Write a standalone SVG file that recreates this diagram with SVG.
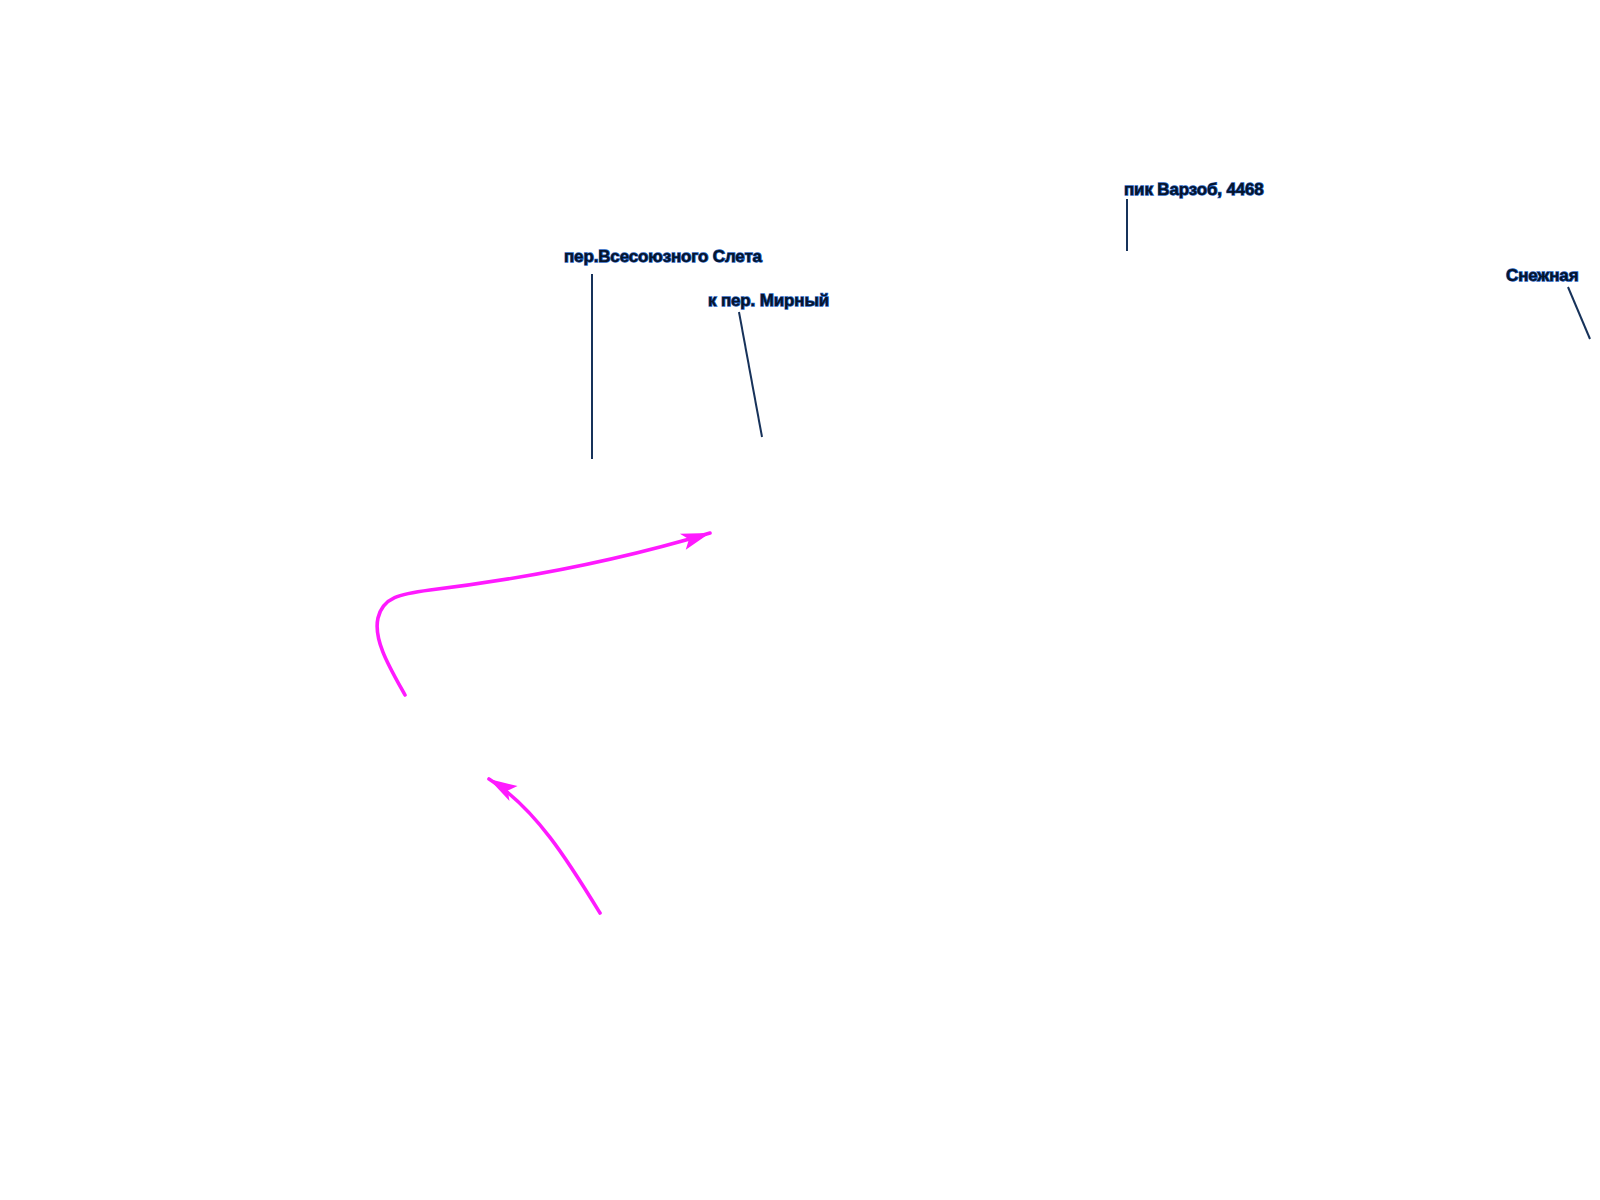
<svg xmlns="http://www.w3.org/2000/svg" width="1600" height="1200" viewBox="0 0 1600 1200">
<style>
.lbl{font-family:"Liberation Sans",Arial,sans-serif;font-size:17px;font-weight:bold;fill:#06142b;stroke:#1f5fbf;stroke-width:1.3;paint-order:stroke;letter-spacing:-0.15px}
.lead{stroke:#17325a;stroke-width:2;fill:none}
.route{stroke:#ff1aff;stroke-width:3.6;fill:none;stroke-linecap:round}
</style>
<defs>
<marker id="ah" markerUnits="userSpaceOnUse" viewBox="-30 -10 32 20" refX="0" refY="0" markerWidth="32" markerHeight="20" orient="auto">
<path d="M0,0 L-29,-8 L-22,0 L-28,9 Z" fill="#ff1aff"/>
</marker>
</defs>
<rect width="1600" height="1200" fill="#ffffff"/>
<g id="connectors">
<line class="lead" x1="592" y1="274" x2="592" y2="459"/>
<line class="lead" x1="739" y1="312" x2="762" y2="437"/>
<line class="lead" x1="1127" y1="199" x2="1127" y2="251"/>
<line class="lead" x1="1568" y1="287" x2="1590" y2="339"/>
<path class="route" d="M405,695 C390,668 373,640 378,618 C383,597 400,594 430,590 C530,578 620,560 710,533" marker-end="url(#ah)"/>
<path class="route" d="M600,913 C570,864 536,808 489,779" marker-end="url(#ah)"/>
</g>
<g id="label-vsesoyuznogo-sleta"><text class="lbl" x="564" y="262">пер.Всесоюзного Слета</text></g>
<g id="label-mirny"><text class="lbl" x="708" y="306">к пер. Мирный</text></g>
<g id="label-varzob"><text class="lbl" x="1124" y="195">пик Варзоб, 4468</text></g>
<g id="label-snezhnaya"><text class="lbl" x="1506" y="281">Снежная</text></g>
</svg>
